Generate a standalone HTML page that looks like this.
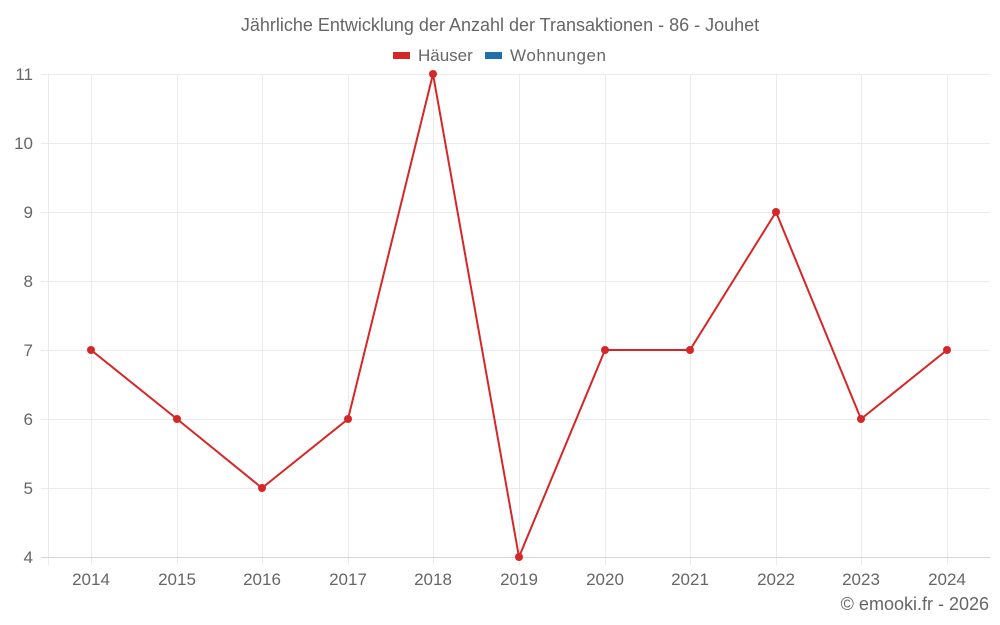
<!DOCTYPE html>
<html><head><meta charset="utf-8"><style>
html,body{margin:0;padding:0;background:#fff;}
svg{display:block;font-family:"Liberation Sans",sans-serif;}
</style></head><body>
<svg width="1000" height="625" viewBox="0 0 1000 625" xmlns="http://www.w3.org/2000/svg">
<text x="500" y="31" text-anchor="middle" font-size="18" fill="#666">Jährliche Entwicklung der Anzahl der Transaktionen - 86 - Jouhet</text>
<rect x="393" y="52" width="17" height="7" fill="#d62728"/>
<text x="418" y="61" font-size="17" fill="#666">Häuser</text>
<rect x="485" y="52" width="17" height="7" fill="#1f6fad"/>
<text x="510" y="61" font-size="17" fill="#666" textLength="96">Wohnungen</text>
<g stroke="#ebebeb" stroke-width="1">
<line x1="41" y1="74.5" x2="990" y2="74.5"/>
<line x1="41" y1="143.5" x2="990" y2="143.5"/>
<line x1="41" y1="212.5" x2="990" y2="212.5"/>
<line x1="41" y1="281.5" x2="990" y2="281.5"/>
<line x1="41" y1="350.5" x2="990" y2="350.5"/>
<line x1="41" y1="419.5" x2="990" y2="419.5"/>
<line x1="41" y1="488.5" x2="990" y2="488.5"/>
<line x1="48.5" y1="74" x2="48.5" y2="565"/>
<line x1="91.5" y1="74" x2="91.5" y2="565"/>
<line x1="177.5" y1="74" x2="177.5" y2="565"/>
<line x1="262.5" y1="74" x2="262.5" y2="565"/>
<line x1="348.5" y1="74" x2="348.5" y2="565"/>
<line x1="433.5" y1="74" x2="433.5" y2="565"/>
<line x1="519.5" y1="74" x2="519.5" y2="565"/>
<line x1="605.5" y1="74" x2="605.5" y2="565"/>
<line x1="690.5" y1="74" x2="690.5" y2="565"/>
<line x1="776.5" y1="74" x2="776.5" y2="565"/>
<line x1="861.5" y1="74" x2="861.5" y2="565"/>
<line x1="947.5" y1="74" x2="947.5" y2="565"/>
</g>
<line x1="41" y1="557.5" x2="990" y2="557.5" stroke="#d6d6d6"/>
<g font-size="17" fill="#666" text-anchor="end">
<text x="33" y="80">11</text><text x="33" y="149">10</text><text x="33" y="218">9</text>
<text x="33" y="287">8</text><text x="33" y="356">7</text><text x="33" y="425">6</text>
<text x="33" y="494">5</text><text x="33" y="563">4</text>
</g>
<g font-size="17" fill="#666" text-anchor="middle">
<text x="91" y="585">2014</text><text x="177" y="585">2015</text><text x="262" y="585">2016</text>
<text x="348" y="585">2017</text><text x="433" y="585">2018</text><text x="519" y="585">2019</text>
<text x="605" y="585">2020</text><text x="690" y="585">2021</text><text x="776" y="585">2022</text>
<text x="861" y="585">2023</text><text x="947" y="585">2024</text>
</g>
<text x="989" y="610" text-anchor="end" font-size="18" fill="#666">© emooki.fr - 2026</text>
<polyline fill="none" stroke="#d62728" stroke-width="2" points="91,350 177,419 262,488 348,419 433,74 519,557 605,350 690,350 776,212 861,419 947,350"/>
<g fill="#d62728">
<circle cx="91" cy="350" r="4"/><circle cx="177" cy="419" r="4"/><circle cx="262" cy="488" r="4"/>
<circle cx="348" cy="419" r="4"/><circle cx="433" cy="74" r="4"/><circle cx="519" cy="557" r="4"/>
<circle cx="605" cy="350" r="4"/><circle cx="690" cy="350" r="4"/><circle cx="776" cy="212" r="4"/>
<circle cx="861" cy="419" r="4"/><circle cx="947" cy="350" r="4"/>
</g>
</svg>
</body></html>
